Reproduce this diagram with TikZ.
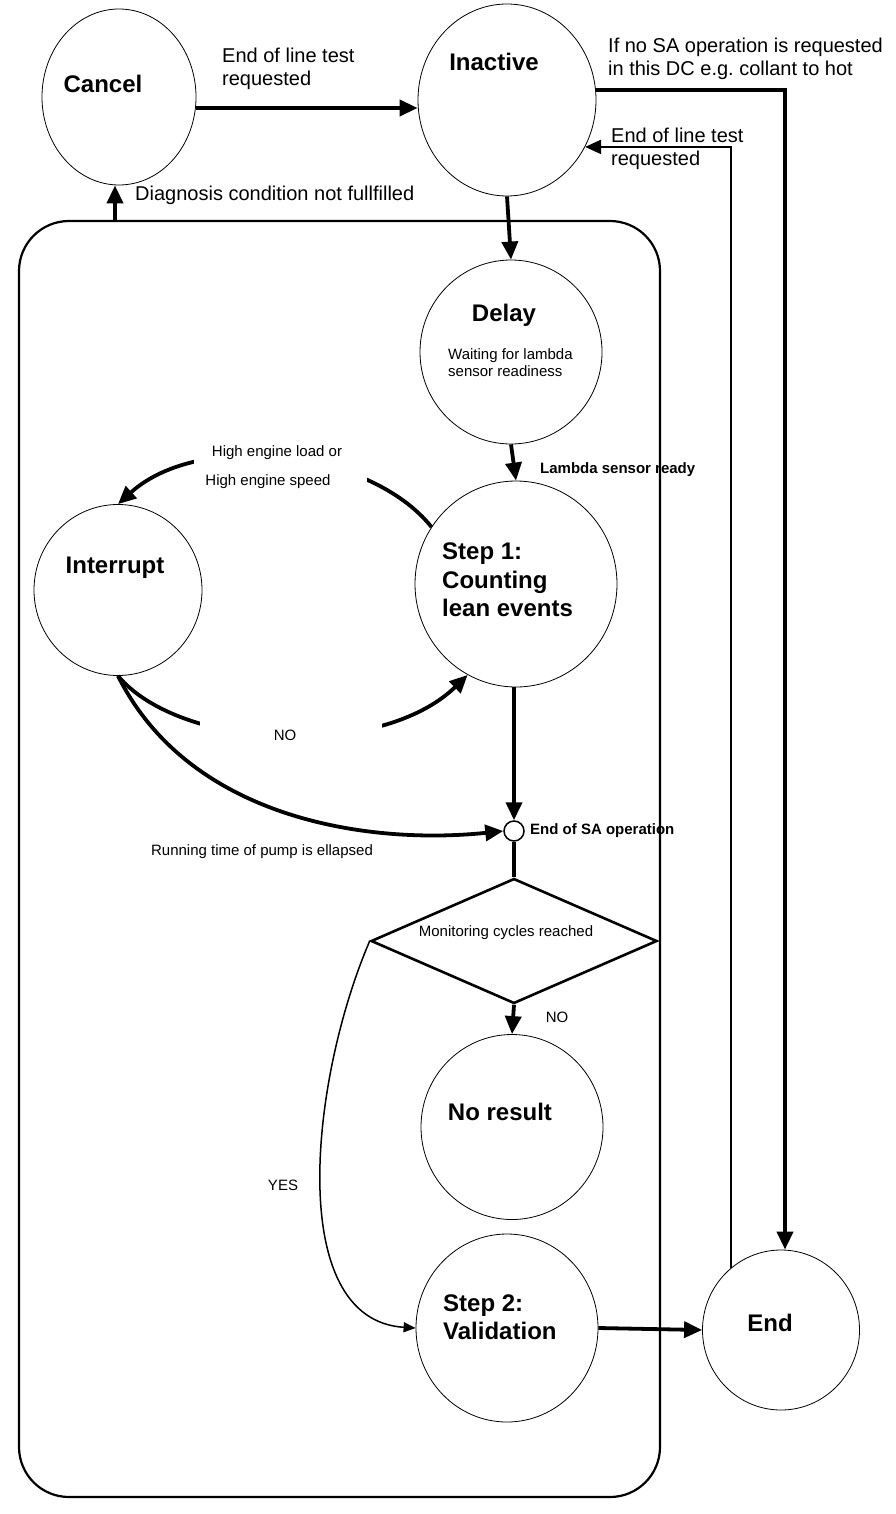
\documentclass[tikz,border=0pt]{standalone}
\usepackage{fontspec}
\setmainfont{Liberation Sans}
\usetikzlibrary{arrows.meta,shapes.geometric}
\begin{document}
\begin{tikzpicture}[x=1pt,y=-1pt,
  state/.style={ellipse, draw, line width=0.8pt, inner sep=0pt},
  title/.style={font=\fontsize{24}{28.5}\selectfont\bfseries, inner sep=0pt},
  lbl/.style={font=\fontsize{20}{23}\selectfont, inner sep=0pt, align=left},
  small/.style={font=\fontsize{15}{17}\selectfont, inner sep=0pt, align=left},
  smallb/.style={font=\fontsize{15}{17}\selectfont\bfseries, inner sep=0pt},
  arr/.style={line width=3.8pt, -{Triangle[length=18pt,width=16pt]}},
  thinarr/.style={line width=2.2pt, -{Triangle[length=16pt,width=14pt]}},
  yesarr/.style={line width=1.5pt, -{Triangle[length=12pt,width=10pt]}},
  mask/.style={fill=white, draw=none, inner sep=0pt}
]
\useasboundingbox (0,0) rectangle (896,1514);
\fill[white] (0,0) rectangle (896,1514);

% frame
\node[draw, line width=2.2pt, rounded corners=50pt, minimum width=641pt, minimum height=1276pt, inner sep=0pt] (frame) at (339.5,859) {};

% states
\node[state, minimum width=154pt, minimum height=176pt] (cancel) at (119,97) {};
\node[state, minimum width=178pt, minimum height=192pt] (inactive) at (507,100) {};
\node[state, minimum width=182pt, minimum height=184pt] (delay) at (511,352) {};
\node[state, minimum width=202pt, minimum height=206pt] (step1) at (516,584) {};
\node[state, minimum width=168pt, minimum height=171pt] (interrupt) at (118,590) {};
\node[state, minimum width=182pt, minimum height=185pt] (noresult) at (512,1127) {};
\node[state, minimum width=182pt, minimum height=188pt] (step2) at (507,1328) {};
\node[state, minimum width=157pt, minimum height=160pt] (endn) at (781,1330) {};
\node[circle, draw, line width=1.5pt, minimum size=20pt, inner sep=0pt] (junc) at (514,831) {};
\node[diamond, draw, line width=2.6pt, minimum width=286pt, minimum height=125pt, inner sep=0pt] (dia) at (514,941) {};

% curved connectors with gaps
\draw[arr] (step1.146) .. controls (370,450) and (200,430) .. (interrupt.north);
\node[mask, minimum width=173pt, minimum height=56pt] (gapA) at (280.5,467) {};
\draw[arr] (interrupt.south) .. controls (180,750) and (380,760) .. (step1.-118);
\node[mask, minimum width=182pt, minimum height=44pt] (gapB) at (291,730) {};
\draw[arr] (interrupt.south) .. controls (190,820) and (370,845) .. (junc.west);
\draw[yesarr] (dia.west) .. controls (310,1080) and (285,1320) .. (step2.west);

% straight connectors
\draw[arr] ([yshift=-11pt]cancel.east) -- ([yshift=-8pt]inactive.west);
\draw[arr] ([yshift=10pt]inactive.east) -| ([xshift=4pt]endn.north);
\draw[thinarr] (endn.129) |- (inactive.-31);
\coordinate (cs) at ([xshift=-4pt]cancel.south);
\draw[arr] (cs |- frame.north) -- (cs);
\draw[arr] (inactive.south) -- (delay.north);
\draw[arr] (delay.south) -- (step1.north);
\draw[arr] (step1.south -| junc.north) -- (junc.north);
\draw[line width=3.8pt] (junc.south) -- (dia.north);
\draw[arr] (dia.south) -- (noresult.north);
\draw[arr] (step2.east) -- (endn.west);

% texts
\node[title] (tCancel) at (103,84) {Cancel};
\node[title] (tInactive) at (494,62) {Inactive};
\node[lbl, anchor=west] (lEol1) at (222,69) {End of line test\\requested};
\node[lbl, anchor=west] (lNoSA) at (608,59) {If no SA operation is requested\\in this DC e.g.\ collant to hot};
\node[lbl, anchor=west] (lEol2) at (611,149) {End of line test\\requested};
\node[lbl, anchor=west] (lDiag) at (135,195) {Diagnosis condition not fullfilled};
\node[title] (tDelay) at (504,315) {Delay};
\node[small, anchor=west] (sDelay) at (448,363) {Waiting for lambda\\sensor readiness};
\node[smallb, anchor=west] (lLambda) at (540,470) {Lambda sensor ready};
\node[small] (lHigh1) at (277,453) {High engine load or};
\node[small] (lHigh2) at (268,482) {High engine speed};
\node[title] (tInterrupt) at (115,568) {Interrupt};
\node[title, align=left, anchor=west] (tStep1) at (442,580) {Step 1:\\Counting\\lean events};
\node[small] (lNo1) at (285,735) {NO};
\node[smallb, anchor=west] (lEndSA) at (530,831) {End of SA operation};
\node[small] (lRun) at (262,852) {Running time of pump is ellapsed};
\node[small] (lMon) at (506,933) {Monitoring cycles reached};
\node[small] (lNo2) at (557,1017) {NO};
\node[title] (tNoRes) at (500,1112) {No result};
\node[small] (lYes) at (283,1185) {YES};
\node[title, align=left, anchor=west] (tStep2) at (443,1317) {Step 2:\\Validation};
\node[title] (tEnd) at (770,1323) {End};
\end{tikzpicture}
\end{document}
